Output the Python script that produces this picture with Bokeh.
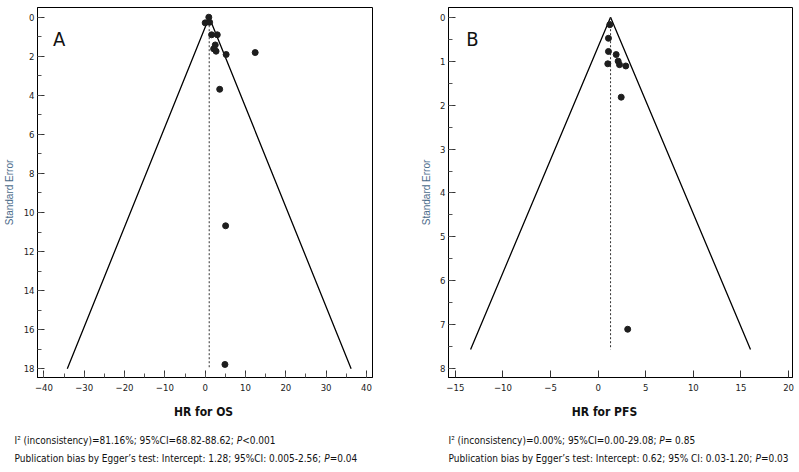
import glob
import re
import struct
import subprocess

from bokeh.plotting import figure
from bokeh.models import Range1d, SingleIntervalTicker, Label
from bokeh.layouts import row, column
from bokeh.embed import file_html
from bokeh.resources import INLINE

# ---------------- data ----------------
os_hr = [0.9, 0.0, 1.1, 1.6, 3.0, 2.5, 2.1, 2.7, 5.2, 12.4, 3.6, 5.07, 4.9]
os_se = [0.0, 0.29, 0.26, 0.9, 0.9, 1.42, 1.62, 1.74, 1.91, 1.81, 3.69, 10.68, 17.78]
os_funnel_x = [-34.2, 1.0, 36.2]
os_funnel_se = [18.0, 0.0, 18.0]
os_pooled = 1.0
os_pooled_se = [0.0, 18.0]

pfs_hr = [1.22, 1.08, 1.08, 1.01, 1.89, 2.1, 2.24, 2.9, 2.42, 3.1]
pfs_se = [0.17, 0.48, 0.78, 1.06, 0.85, 1.0, 1.08, 1.11, 1.82, 7.1]
pfs_funnel_x = [-13.4, 1.3, 16.0]
pfs_funnel_se = [7.56, 0.0, 7.56]
pfs_pooled = 1.3
pfs_pooled_se = [0.0, 7.56]

os_title = "HR for OS"
pfs_title = "HR for PFS"
y_title = "Standard Error"
os_caption = [
    "I\u00b2 (inconsistency)=81.16%; 95%CI=68.82-88.62; P<0.001",
    "Publication bias by Egger\u2019s test:  Intercept: 1.28; 95%CI: 0.005-2.56; P=0.04",
]
pfs_caption = [
    "I\u00b2 (inconsistency)=0.00%; 95%CI=0.00-29.08; P= 0.85",
    "Publication bias by Egger\u2019s test: Intercept: 0.62; 95% CI: 0.03-1.20; P=0.03",
]


# ---------------- fonts ----------------
def font_families():
    txt = ""
    try:
        txt += subprocess.run(["fc-list", ":family"], capture_output=True, text=True).stdout
    except Exception:
        pass
    txt += " ".join(glob.glob("/usr/share/fonts/**/*", recursive=True))
    return txt


fams = font_families()
if "Liberation Sans Narrow" in fams or "LiberationSansNarrow" in fams:
    FONT, FONT_FILE = "Liberation Sans Narrow", "LiberationSansNarrow-Regular.ttf"
    SZ = dict(tick=10.5, cap=11.6, title=14, letter=21)
elif "DejaVu Sans Condensed" in fams or "DejaVuSansCondensed" in fams:
    FONT, FONT_FILE = "DejaVu Sans Condensed", "DejaVuSansCondensed.ttf"
    SZ = dict(tick=9.5, cap=10.0, title=12, letter=20)
else:
    FONT, FONT_FILE = "Liberation Sans", "LiberationSans-Regular.ttf"
    SZ = dict(tick=9.5, cap=9.8, title=11.5, letter=20)


def load_width_fn(fname):
    """Advance-width text measurer read from the font file (no kerning)."""
    paths = glob.glob("/usr/share/fonts/**/" + fname, recursive=True)
    paths += glob.glob("/usr/local/share/fonts/**/" + fname, recursive=True)
    data = open(paths[0], "rb").read()
    num = struct.unpack(">H", data[4:6])[0]
    tables = {}
    for i in range(num):
        tag, _cs, off, ln = struct.unpack(">4sIII", data[12 + 16 * i:28 + 16 * i])
        tables[tag.decode("latin1")] = off
    head = tables["head"]
    upem = struct.unpack(">H", data[head + 18:head + 20])[0]
    hhea = tables["hhea"]
    nhm = struct.unpack(">H", data[hhea + 34:hhea + 36])[0]
    hmtx = tables["hmtx"]
    adv = [struct.unpack(">H", data[hmtx + 4 * i:hmtx + 4 * i + 2])[0] for i in range(nhm)]
    cmap = tables["cmap"]
    nsub = struct.unpack(">H", data[cmap + 2:cmap + 4])[0]
    sub = None
    for i in range(nsub):
        pid, eid, off = struct.unpack(">HHI", data[cmap + 4 + 8 * i:cmap + 12 + 8 * i])
        if pid == 3 and eid == 1:
            sub = cmap + off
    segx2 = struct.unpack(">H", data[sub + 6:sub + 8])[0]
    seg = segx2 // 2
    ends = struct.unpack(">%dH" % seg, data[sub + 14:sub + 14 + segx2])
    so = sub + 16 + segx2
    starts = struct.unpack(">%dH" % seg, data[so:so + segx2])
    do = so + segx2
    deltas = struct.unpack(">%dh" % seg, data[do:do + segx2])
    ro = do + segx2
    ros = struct.unpack(">%dH" % seg, data[ro:ro + segx2])

    def gid(c):
        for i in range(seg):
            if ends[i] >= c:
                if starts[i] > c:
                    return 0
                if ros[i] == 0:
                    return (c + deltas[i]) & 0xFFFF
                addr = ro + 2 * i + ros[i] + 2 * (c - starts[i])
                g = struct.unpack(">H", data[addr:addr + 2])[0]
                return (g + deltas[i]) & 0xFFFF if g else 0
        return 0

    def width(text, size):
        tot = 0
        for ch in text:
            g = gid(ord(ch))
            tot += adv[g] if g < nhm else adv[-1]
        return tot / upem * size

    return width


try:
    text_width = load_width_fn(FONT_FILE)
except Exception:
    text_width = None


def px(v):
    return "%.1fpx" % v


PLOT_H = 398
CAP_H = 472 - PLOT_H
TOP = 7
BOTTOM = 21
FRAME_H = PLOT_H - TOP - BOTTOM


def panel(width, left, frame_w, xr, yr, xtick, xminor, ytick, yminor,
          hx, hse, fx, fse, pooled, pooled_se, letter, letter_xy, ylab_standoff):
    right = width - left - frame_w
    p = figure(width=width, height=PLOT_H, x_range=Range1d(*xr), y_range=Range1d(yr[1], yr[0]),
               output_backend="svg", toolbar_location=None,
               min_border_left=left, min_border_right=right,
               min_border_top=TOP, min_border_bottom=BOTTOM)
    p.frame_align = False
    p.grid.visible = False
    p.outline_line_color = "black"
    p.outline_line_width = 1
    p.background_fill_color = "white"
    p.border_fill_color = "white"

    p.xaxis.ticker = SingleIntervalTicker(interval=xtick, num_minor_ticks=xminor)
    p.yaxis.ticker = SingleIntervalTicker(interval=ytick, num_minor_ticks=yminor)
    for ax in (p.xaxis[0], p.yaxis[0]):
        ax.major_tick_in = 7
        ax.major_tick_out = 0
        ax.minor_tick_in = 4
        ax.minor_tick_out = 0
        ax.axis_line_color = "black"
        ax.major_tick_line_color = "#333333"
        ax.minor_tick_line_color = "#555555"
        ax.major_label_text_font = FONT
        ax.major_label_text_font_size = px(SZ["tick"])
        ax.major_label_text_color = "#222222"
    if xminor <= 1:
        p.xaxis.minor_tick_line_color = None
    p.xaxis.major_label_standoff = 6
    p.yaxis.major_label_standoff = 3

    p.yaxis.axis_label = y_title
    p.yaxis.axis_label_text_font = "Liberation Sans"
    p.yaxis.axis_label_text_font_size = "10px"
    p.yaxis.axis_label_text_font_style = "normal"
    p.yaxis.axis_label_text_color = "#4a6b8a"
    p.yaxis.axis_label_standoff = ylab_standoff

    # funnel
    p.line(fx, fse, line_color="black", line_width=1.3)
    p.line([pooled, pooled], pooled_se, line_color="#333333", line_width=1, line_dash="2 2")
    p.scatter(hx, hse, size=6, color="#1e1e1e")

    # panel letter (page pixel position -> data coordinates)
    frame_left = left
    lx = xr[0] + (letter_xy[0] - frame_left) / frame_w * (xr[1] - xr[0])
    ly = yr[0] + (letter_xy[1] - TOP) / FRAME_H * (yr[1] - yr[0])
    p.add_layout(Label(x=lx, y=ly, text=letter,
                       text_font=FONT, text_font_size=px(SZ["letter"]), text_color="#111111",
                       text_align="center", text_baseline="middle"))
    return p


def add_text(c, x, y, text, style="normal"):
    c.add_layout(Label(x=x, y=y, text=text, text_font=FONT, text_font_size=px(SZ["cap"]),
                       text_font_style=style, text_color="#111111",
                       text_align="left", text_baseline="middle"))


def caption(width, x0, title, title_x, lines, line_x):
    c = figure(width=width, height=CAP_H, x_range=Range1d(x0, x0 + width),
               y_range=Range1d(472, PLOT_H), output_backend="svg", toolbar_location=None,
               x_axis_location=None, y_axis_location=None,
               min_border=0, min_border_left=0, min_border_right=0,
               min_border_top=0, min_border_bottom=0)
    c.frame_align = False
    c.grid.visible = False
    c.outline_line_color = None
    c.background_fill_color = "white"
    c.border_fill_color = "white"
    c.add_layout(Label(x=title_x, y=411, text=title, text_font=FONT,
                       text_font_size=px(SZ["title"]), text_font_style="bold",
                       text_color="#111111", text_align="center", text_baseline="middle"))
    for i, line in enumerate(lines):
        y = 440 + 18 * i
        k = line.rfind("P")
        if text_width is None or k <= 0:
            add_text(c, line_x, y, line)
            continue
        pre, pchar, post = line[:k], line[k], line[k + 1:]
        add_text(c, line_x, y, pre.rstrip())
        # SVG collapses runs of spaces, so measure the collapsed prefix
        xp = line_x + text_width(re.sub(" +", " ", pre), SZ["cap"])
        add_text(c, xp, y, pchar, "italic")
        xr = xp + text_width(pchar, SZ["cap"])
        add_text(c, xr, y, post)
    return c


W_A = 408
W_B = 799 - W_A

pA = panel(W_A, 33, 339, (-41.59, 41.5), (-0.497, 18.448), 10, 2, 2, 2,
           os_hr, os_se, os_funnel_x, os_funnel_se, os_pooled, os_pooled_se,
           "A", (55, 38), 6)
pB = panel(W_B, 40, 344, (-15.72, 20.41), (-0.2207, 8.198), 5, 0, 1, 2,
           pfs_hr, pfs_se, pfs_funnel_x, pfs_funnel_se, pfs_pooled, pfs_pooled_se,
           "B", (472 - W_A, 38), 5)

cA = caption(W_A, 0, os_title, 203, os_caption, 14)
cB = caption(W_B, W_A, pfs_title, 604, pfs_caption, 448)

layout = row(column(pA, cA), column(pB, cB))
open("out.html", "w").write(file_html(layout, INLINE))
